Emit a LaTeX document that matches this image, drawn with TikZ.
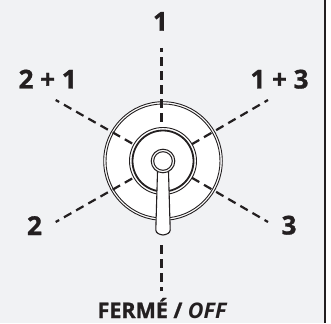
\documentclass[tikz,border=0pt]{standalone}
\usepackage{fontspec}
\setmainfont[BoldFeatures={FakeBold=1.2}]{Open Sans}
\definecolor{bg}{HTML}{F1F2F4}
\definecolor{ink}{HTML}{231F20}
\tikzset{
  ray/.style={draw=ink,line width=2.2pt,dash pattern=on 8.5pt off 5.5pt,dash phase=4.5pt},
  lab/.style={text=ink,font=\bfseries\fontsize{26}{26}\selectfont,inner sep=0pt,anchor=base},
  lab2/.style={text=ink,font=\bfseries\fontsize{21.5}{21.5}\selectfont,inner sep=0pt,anchor=base},
}
\begin{document}
\begin{tikzpicture}[x=1pt,y=-1pt]
\useasboundingbox (0,0) rectangle (331,323);
\fill[bg] (0,0) rectangle (331,323);
\fill[white] (326,0) rectangle (331,323);
\draw[draw=ink,line width=2pt] (325,0) -- (325,323);
\coordinate (c) at (163,161);
\fill[white] (c) circle[radius=59];
% rays, outer end first
\coordinate (top) at (161.5,48);
\coordinate (tr) at (268,100);
\coordinate (br) at (268,222);
\coordinate (tl) at (55.7,100);
\coordinate (bl) at (55.7,222);
\coordinate (bot) at (161.5,291);
\coordinate (botS) at (161.5,240);
\coordinate (topE) at (161.5,128);
\draw[ray] (top) -- (topE);
\draw[ray] (bot) -- (botS);
\draw[ray] (tl) -- (c);
\draw[ray] (bl) -- (c);
\draw[ray] (tr) -- (c);
\draw[ray] (br) -- (c);
% outer ring: two thin lines
\draw[ink,line width=0.9pt] (c) circle[radius=59.3];
\draw[ink,line width=0.9pt] (c) circle[radius=57];
% inner disc and ring
\fill[white] (c) circle[radius=33];
\draw[ink,line width=0.9pt] (c) circle[radius=33.5];
\draw[ink,line width=1.8pt] (c) circle[radius=30.5];
% handle
\draw[ink,line width=1.1pt,fill=white,line join=round] (157.7,165) -- (155.8,230) .. controls (156,233) and (159,234.5) .. (163,235) .. controls (167,234.5) and (170,233) .. (170.2,230) -- (168.3,165) -- cycle;
% hub
\draw[ink,line width=1pt,fill=white] (c) circle[radius=11.8];
\draw[ink,line width=1pt] (c) circle[radius=9.3];
% labels
\node[lab] (l1) at (160.5,30.7) {1};
\node[lab] (l21) at (47.7,88.5) {2 + 1};
\node[lab] (l13) at (279.5,88.5) {1 + 3};
\node[lab] (l2) at (34.5,235) {2};
\node[lab] (l3) at (289,234.5) {3};
\node[lab2] (off) at (162.5,318) {FERMÉ / \textit{OFF}};
\end{tikzpicture}
\end{document}
